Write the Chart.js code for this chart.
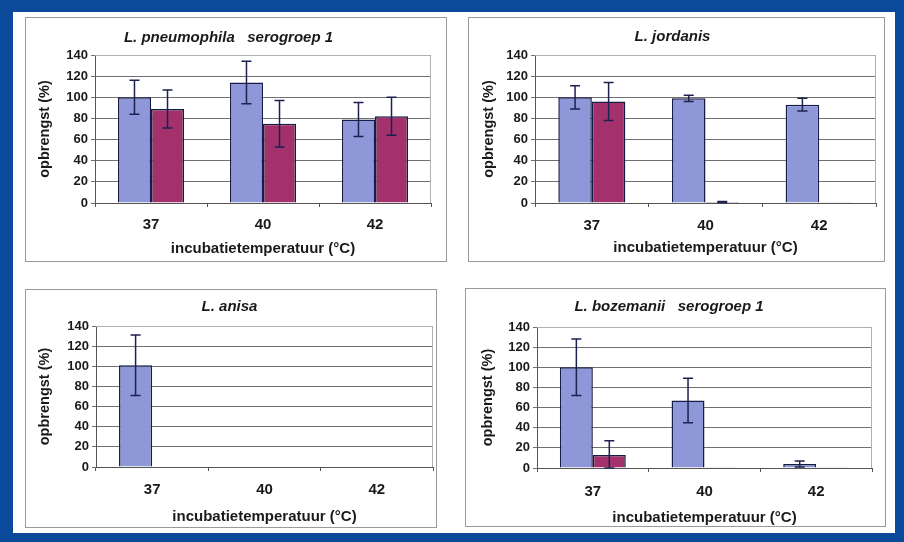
<!DOCTYPE html>
<html>
<head>
<meta charset="utf-8">
<script src="https://cdn.jsdelivr.net/npm/chart.js@4.4.1/dist/chart.umd.min.js"></script>
<style>
  html, body { margin: 0; padding: 0; }
  body { width: 904px; height: 542px; background: #0b4a9b; position: relative; overflow: hidden; }
  #sheet { position: absolute; left: 13px; top: 12px; width: 882px; height: 521px; background: #fff; }
  .panel { position: absolute; border: 1px solid #9a9a9a; background: #fff; }
  .panel canvas { display: block; }
</style>
</head>
<body>
<div id="sheet"></div>

<script>
"use strict";

// incubation temperatures (°C)
const categories = ['37', '40', '42'];
const yTicks = [0, 20, 40, 60, 80, 100, 120, 140];

const titles = [
  'L. pneumophila   serogroep 1',
  'L. jordanis',
  'L. anisa',
  'L. bozemanii   serogroep 1'
];

// blue series (opbrengst %) and its error bars
const pneumoBlue = [100, 114, 79];
const pneumoBlueErr = [16, 20, 16];
const jordanisBlue = [100, 99, 93];
const jordanisBlueErr = [11, 3, 6];
const anisaBlue = [101, 0.5, 0.5];
const anisaBlueErr = [30, 0, 0];
const bozemaniiBlue = [100, 67, 4];
const bozemaniiBlueErr = [28, 22, 3];

// red series and its error bars
const pneumoRed = [89, 75, 82];
const pneumoRedErr = [18, 22, 18];
const jordanisRed = [96, 1, 0.3];
const jordanisRedErr = [18, 0.5, 0];
const anisaRed = [0, 0, 0];
const anisaRedErr = [0, 0, 0];
const bozemaniiRed = [13, 0.3, 0.3];
const bozemaniiRedErr = [14, 0, 0];

const blueSeries = [pneumoBlue, jordanisBlue, anisaBlue, bozemaniiBlue];
const blueErrors = [pneumoBlueErr, jordanisBlueErr, anisaBlueErr, bozemaniiBlueErr];
const redSeries = [pneumoRed, jordanisRed, anisaRed, bozemaniiRed];
const redErrors = [pneumoRedErr, jordanisRedErr, anisaRedErr, bozemaniiRedErr];

// page layout of the four panels (page pixels)
const panels = [
  { left: 25,  top: 17,  width: 422, height: 245, plotL: 95,  plotR: 431, plotT: 55,  plotB: 203, titleY: 38,  yTitleX: 45,  lblOff: 22, xTitleOff: 46 },
  { left: 468, top: 17,  width: 417, height: 245, plotL: 535, plotR: 876, plotT: 55,  plotB: 203, titleY: 37,  yTitleX: 489, lblOff: 23, xTitleOff: 45 },
  { left: 25,  top: 289, width: 412, height: 239, plotL: 96,  plotR: 433, plotT: 326, plotB: 467, titleY: 307, yTitleX: 45,  lblOff: 23, xTitleOff: 50 },
  { left: 465, top: 288, width: 421, height: 239, plotL: 537, plotR: 872, plotT: 327, plotB: 468, titleY: 307, yTitleX: 488, lblOff: 24, xTitleOff: 50 }
];

const FONT = 'Arial, "Liberation Sans", sans-serif';
const LH = 1.2;

const errorBars = {
  id: 'errorBars',
  afterDatasetsDraw(chart) {
    const ctx = chart.ctx;
    const yScale = chart.scales.y;
    ctx.save();
    ctx.strokeStyle = '#1c2150';
    ctx.lineWidth = 1.5;
    chart.data.datasets.forEach((ds, i) => {
      const meta = chart.getDatasetMeta(i);
      meta.data.forEach((bar, j) => {
        const err = ds.errors[j];
        if (!err) return;
        const v = ds.data[j];
        const yTop = yScale.getPixelForValue(v + err);
        const yBot = yScale.getPixelForValue(Math.max(0, v - err));
        const cap = 5;
        ctx.beginPath();
        ctx.moveTo(bar.x, yTop);
        ctx.lineTo(bar.x, yBot);
        ctx.moveTo(bar.x - cap, yTop);
        ctx.lineTo(bar.x + cap, yTop);
        ctx.moveTo(bar.x - cap, yBot);
        ctx.lineTo(bar.x + cap, yBot);
        ctx.stroke();
      });
    });
    ctx.restore();
  }
};

// thin frame round the plot area
const plotFrame = {
  id: 'plotFrame',
  beforeDatasetsDraw(chart) {
    const a = chart.chartArea;
    const ctx = chart.ctx;
    ctx.save();
    ctx.strokeStyle = '#b0b0b0';
    ctx.lineWidth = 1;
    ctx.beginPath();
    ctx.moveTo(a.left, a.top + 0.5);
    ctx.lineTo(a.right - 0.5, a.top + 0.5);
    ctx.lineTo(a.right - 0.5, a.bottom);
    ctx.stroke();
    ctx.restore();
  }
};

function makePanel(p, idx) {
  const sheet = document.getElementById('sheet');
  const div = document.createElement('div');
  div.className = 'panel';
  div.style.left = (p.left - 13) + 'px';
  div.style.top = (p.top - 12) + 'px';
  div.style.width = (p.width - 2) + 'px';
  div.style.height = (p.height - 2) + 'px';
  const canvas = document.createElement('canvas');
  const cw = p.width - 2;
  const chh = p.height - 2;
  canvas.width = cw;
  canvas.height = chh;
  div.appendChild(canvas);
  sheet.appendChild(div);

  const cLeft = p.left + 1;
  const cTop = p.top + 1;
  const titleSize = 15, tickSize = 13, xTickSize = 15, axisTitleSize = 15, yTitleSize = 14.5;

  const yWidth = p.plotL - cLeft;
  const xHeight = (cTop + chh) - p.plotB;
  const titlePadTop = (p.titleY - cTop) - titleSize * LH / 2;
  const titlePadBottom = (p.plotT - cTop) - titlePadTop - titleSize * LH;
  const tickLen = 4;

  new Chart(canvas, {
    type: 'bar',
    data: {
      labels: categories,
      datasets: [
        {
          data: blueSeries[idx],
          errors: blueErrors[idx],
          backgroundColor: '#8e98d8',
          borderColor: '#171c45',
          borderWidth: 1.5,
          barPercentage: 1,
          categoryPercentage: 0.59
        },
        {
          data: redSeries[idx],
          errors: redErrors[idx],
          backgroundColor: '#a3326c',
          borderColor: '#171c45',
          borderWidth: 1.5,
          barPercentage: 1,
          categoryPercentage: 0.59
        }
      ]
    },
    options: {
      responsive: false,
      animation: false,
      events: [],
      layout: { padding: { left: 0, right: cw - (p.plotR - cLeft), top: 0, bottom: 0 } },
      plugins: {
        legend: { display: false },
        tooltip: { enabled: false },
        title: {
          display: true,
          text: titles[idx],
          color: '#1a1a1a',
          font: { family: FONT, size: titleSize, weight: 'bold', style: 'italic', lineHeight: LH },
          padding: { top: titlePadTop, bottom: titlePadBottom }
        }
      },
      scales: {
        x: {
          grid: { display: true, drawOnChartArea: false, tickLength: tickLen, color: '#555' },
          border: { display: true, color: '#555', width: 1 },
          ticks: {
            color: '#1a1a1a',
            padding: p.lblOff - tickLen - xTickSize * LH / 2,
            font: { family: FONT, size: xTickSize, weight: 'bold', lineHeight: LH }
          },
          title: {
            display: true,
            text: 'incubatietemperatuur (°C)',
            color: '#1a1a1a',
            font: { family: FONT, size: axisTitleSize, weight: 'bold', lineHeight: LH },
            padding: { top: 0, bottom: xHeight - p.xTitleOff - axisTitleSize * LH / 2 }
          },
          afterFit(scale) { scale.height = xHeight; }
        },
        y: {
          min: 0,
          max: 140,
          afterBuildTicks(scale) { scale.ticks = yTicks.map(v => ({ value: v })); },
          grid: { color: '#707070', lineWidth: 1, tickLength: tickLen },
          border: { display: true, color: '#555', width: 1 },
          ticks: {
            color: '#1a1a1a',
            padding: 3,
            font: { family: FONT, size: tickSize, weight: 'bold', lineHeight: LH }
          },
          title: {
            display: true,
            text: 'opbrengst (%)',
            color: '#1a1a1a',
            font: { family: FONT, size: yTitleSize, weight: 'bold', lineHeight: LH },
            padding: { top: (p.yTitleX - cLeft) - yTitleSize * LH / 2, bottom: 0 }
          },
          afterFit(scale) { scale.width = yWidth; }
        }
      }
    },
    plugins: [plotFrame, errorBars]
  });
}

panels.forEach(makePanel);
</script>
</body>
</html>
